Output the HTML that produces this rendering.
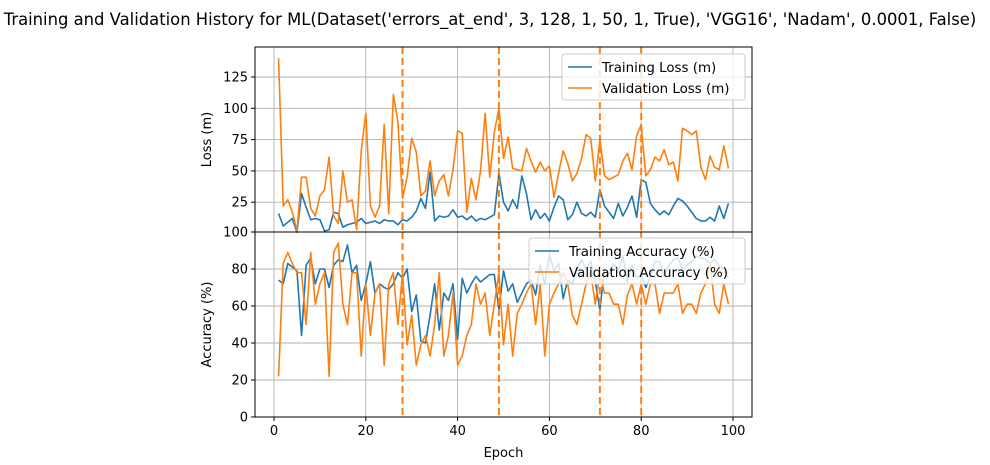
<!DOCTYPE html>
<html><head><meta charset="utf-8"><style>
body{margin:0;background:#fff}
svg text{font-family:"DejaVu Sans","Liberation Sans",sans-serif;fill:#000}
</style></head><body>
<svg id="chart" width="990" height="460" xmlns="http://www.w3.org/2000/svg">
<rect width="990" height="460" fill="#fff"/>
<text x="490" y="25" font-size="16.4" text-anchor="middle">Training and Validation History for ML(Dataset('errors_at_end', 3, 128, 1, 50, 1, True), 'VGG16', 'Nadam', 0.0001, False)</text>
<g id="top"></g><g id="bot"></g>
</svg>
<script>
const epochs=[];for(let i=1;i<=99;i++)epochs.push(i);
const trainLoss=[16,6,9,12,1,32,21,11,12,11,2,3,17,16,5,7,8,9,12,8,9,10,8,11,10,10,7,11,10,13,18,28,20,49,10,14,13,14,19,13,14,11,14,10,12,11,13,15,48,25,18,27,20,46,32,11,19,12,16,10,21,30,27,11,15,25,16,14,17,13,35,22,17,12,24,14,21,30,13,43,41,24,19,15,18,15,22,28,26,22,17,12,10,10,13,10,22,12,24];
const valLoss=[140,22,27,17,2,45,45,20,14,30,35,61,14,8,50,25,27,3,66,96,22,13,22,87,16,111,89,28,45,76,65,30,34,58,30,42,47,30,51,82,80,17,44,27,50,96,45,81,100,60,77,52,51,50,68,58,49,57,50,54,29,48,66,56,42,48,60,79,76,42,75,46,43,45,47,58,64,51,78,87,46,51,61,58,67,55,57,42,84,82,79,82,53,43,62,53,51,70,52];
const trainAcc=[74,72,83,81,79,44,82,86,72,80,80,70,82,85,84,93,78,82,63,72,84,67,72,70,69,72,78,75,80,57,66,41,40,55,72,47,67,63,72,42,75,67,72,76,73,75,77,77,58,79,68,72,62,67,72,74,66,82,72,88,79,83,64,74,72,80,85,80,84,73,58,80,77,83,79,87,73,82,75,77,70,76,84,84,76,82,85,86,80,82,84,87,86,85,83,85,82,80,75];
const valAcc=[22,83,89,83,78,78,50,89,61,72,78,22,89,94,61,50,78,78,33,72,44,67,72,28,72,78,50,78,39,55,28,39,44,33,50,78,33,44,67,28,33,44,50,72,61,67,44,61,78,39,61,33,56,61,67,72,50,72,33,61,67,72,78,72,55,50,61,72,78,61,78,67,67,61,61,50,66,72,61,72,61,72,72,56,67,67,67,72,56,61,61,56,67,72,83,61,56,72,61];
const markers=[28,49,71,80];
const xTicks=[0,20,40,60,80,100];
const lossTicks=[25,50,75,100,125];
const accTicks=[0,20,40,60,80,100];
const NS='http://www.w3.org/2000/svg';
const L=255,R=752;
const xs=v=>274+(v)*4.59;
const yTop=v=>233.5-v*1.252;
const yBot=v=>417-v*1.85;
function el(p,t,a){const e=document.createElementNS(NS,t);for(const k in a)e.setAttribute(k,a[k]);p.appendChild(e);return e;}
function txt(p,x,y,s,anchor,size){const t=el(p,'text',{x:x,y:y,'font-size':size||13,'text-anchor':anchor});t.textContent=s;return t;}
function panel(g,y0,y1,ys,ticks,train,val,ylabel,leg,lx,ly,lw,showX){
  for(const t of xTicks){const l=el(g,'line',{x1:xs(t),x2:xs(t),y1:y0,y2:y1,stroke:'#b0b0b0','stroke-width':0.9});
    
    }
  for(const t of ticks){const l=el(g,'line',{x1:L,x2:R,y1:ys(t),y2:ys(t),stroke:'#b0b0b0','stroke-width':0.9});
    
    
    el(g,'line',{x1:L-4,x2:L,y1:ys(t),y2:ys(t),stroke:'#000'});
    const tt=txt(g,L-7,ys(t)+4.5,String(t),'end',13);
    
    }
  const mk=(arr,c,name)=>{const p=el(g,'polyline',{points:arr.map((v,i)=>xs(epochs[i])+','+ys(v)).join(' '),fill:'none',stroke:c,'stroke-width':1.6,'stroke-linejoin':'round'});
    
    };
  mk(train,'#1f77b4','training-series');
  mk(val,'#ff7f0e','validation-series');
  for(const m of markers){const l=el(g,'line',{x1:xs(m),x2:xs(m),y1:y0,y2:y1,stroke:'#ff7f0e','stroke-width':2,'stroke-dasharray':'7,4'});
    
    }
  const r=el(g,'rect',{x:L,y:y0,width:R-L,height:y1-y0,fill:'none',stroke:'#000','stroke-width':1});
  
  
  const yl=txt(g,0,0,ylabel,'middle',13);yl.setAttribute('transform','translate(211,'+((y0+y1)/2)+') rotate(-90)');
  
  
  const lg=el(g,'g',{});
  
  
  el(lg,'rect',{x:lx,y:ly,width:lw,height:46,rx:3,fill:'#fff','fill-opacity':0.8,stroke:'#ccc'});
  el(lg,'line',{x1:lx+6,x2:lx+30,y1:ly+13,y2:ly+13,stroke:'#1f77b4','stroke-width':1.6});
  el(lg,'line',{x1:lx+6,x2:lx+30,y1:ly+34,y2:ly+34,stroke:'#ff7f0e','stroke-width':1.6});
  txt(lg,lx+40,ly+18,leg[0],'start',13.4);txt(lg,lx+40,ly+39,leg[1],'start',13.4);
  if(showX){for(const t of xTicks){el(g,'line',{x1:xs(t),x2:xs(t),y1:y1,y2:y1+4,stroke:'#000'});
    const tt=txt(g,xs(t),y1+18,String(t),'middle',13);
    
    }
    const xl=txt(g,(L+R)/2,y1+40,'Epoch','middle',13);
    
    }
}
panel(document.getElementById('top'),47,232,yTop,lossTicks,trainLoss,valLoss,'Loss (m)',['Training Loss (m)','Validation Loss (m)'],562,54,183,false);
panel(document.getElementById('bot'),232,417,yBot,accTicks,trainAcc,valAcc,'Accuracy (%)',['Training Accuracy (%)','Validation Accuracy (%)'],529,238,216,true);
</script>
</body></html>
